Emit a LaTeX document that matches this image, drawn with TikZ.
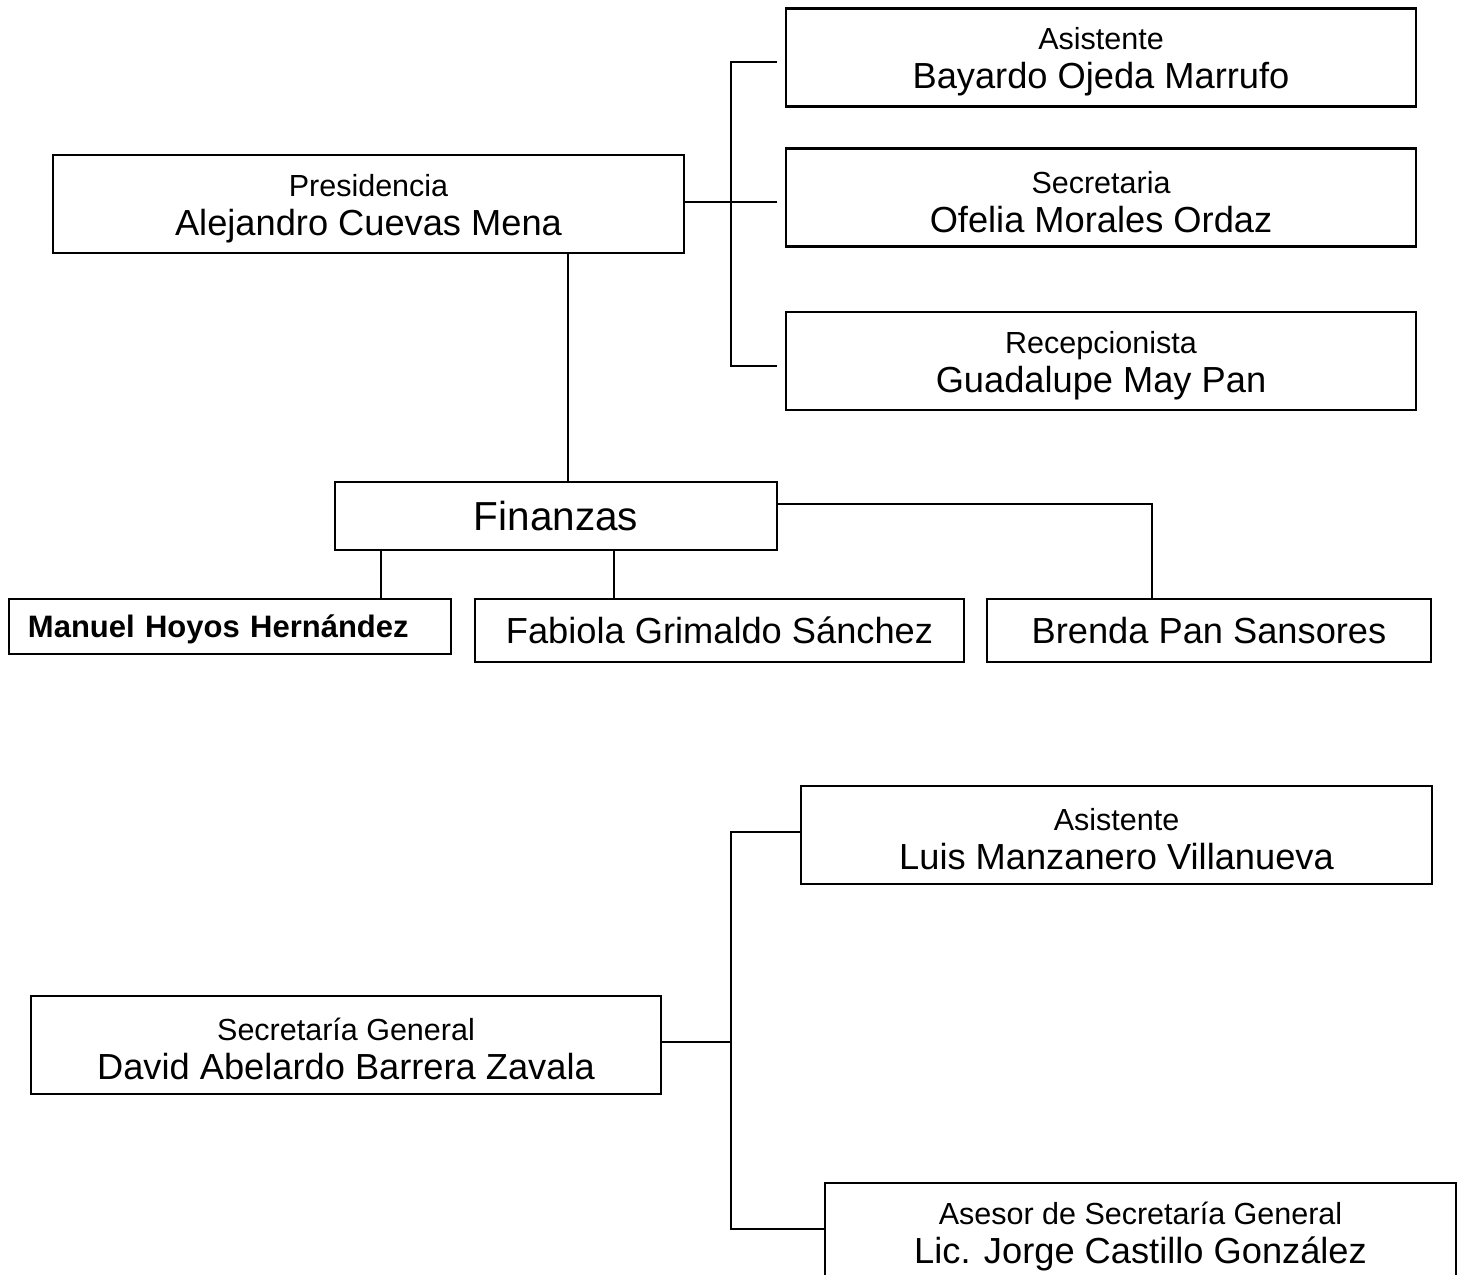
\documentclass[tikz,border=0pt]{standalone}
\usepackage{fontspec}
\setmainfont{Liberation Sans}
\usetikzlibrary{positioning}

\newcommand\cargo[1]{{\fontsize{12.2}{15}\selectfont\rule{0pt}{12.3pt}#1}}
\newcommand\nombre[1]{{\fontsize{14.5}{15.6}\selectfont #1}}

\begin{document}
\begin{tikzpicture}
	[x=0.4pt, y=-0.4pt, line width=0.9pt,
	 bx/.style={draw=black, line width=0.9pt, rectangle, align=center, inner sep=0pt,
	            font=\fontsize{14.5}{15.6}\selectfont},
	 sz/.style 2 args={minimum width=#1*0.4pt, minimum height=#2*0.4pt}]
	\path[fill=white, use as bounding box] (0,0) rectangle (1460,1274);

	% Presidencia
	\node[bx, sz={631}{98}] (pres) at (368.5,204) {\cargo{Presidencia}\\\nombre{Alejandro Cuevas Mena}};
	\node[bx, sz={630}{98}] (asis) at (1101,57.5) {\cargo{Asistente}\\\nombre{Bayardo Ojeda Marrufo}};
	\node[bx, sz={630}{98}] (secr) at (1101,197.5) {\cargo{Secretaria}\\\nombre{Ofelia Morales Ordaz}};
	\node[bx, sz={630}{98}] (recep) at (1101,361) {\cargo{Recepcionista}\\\nombre{Guadalupe May Pan}};

	% Finanzas
	\node[bx, sz={442}{68}, font=\fontsize{16.2}{18}\selectfont] (fin) at (556,516) {Finanzas};
	\node[bx, sz={442}{55}, inner xsep=7.6pt, text width=161.6pt, align=left, text depth=0pt,
	      font=\fontsize{12.4}{14}\selectfont\bfseries] (manuel) at (230,626.5) {Manuel Hoyos Hernández};
	\node[bx, sz={489}{63}] (fabiola) at (719.5,630.5) {\nombre{Fabiola Grimaldo Sánchez}};
	\node[bx, sz={444}{63}] (brenda) at (1209,630.5) {\nombre{Brenda Pan Sansores}};

	% Secretaria General
	\node[bx, sz={630}{98}] (secgen) at (346,1045) {\cargo{Secretaría General}\\\nombre{David Abelardo Barrera Zavala}};
	\node[bx, sz={631}{98}] (asis2) at (1116.5,835) {\cargo{Asistente}\\\nombre{Luis Manzanero Villanueva}};
	\node[bx, sz={631}{98}] (asesor) at (1140.5,1232) {\cargo{Asesor de Secretaría General}\\\nombre{Lic. Jorge Castillo González}};

	\coordinate (ta) at (731,62);
	\coordinate (tm) at (731,202);
	\coordinate (tb) at (731,366);
	\coordinate (fv) at (568,0);
	\coordinate (mv) at (381,0);
	\coordinate (fb) at (614,0);
	\coordinate (fr) at (1152,504);
	\coordinate (ba) at (731,832);
	\coordinate (bm) at (731,1042);
	\coordinate (bb) at (731,1229);

	\draw (pres.east |- tm) -- (tm);
	\draw[shorten >=3.2pt] (tm) -- (secr.west |- tm);
	\draw[shorten <=3.2pt, shorten >=3.2pt] (asis.west |- ta) -- (ta) -- (tb) -- (recep.west |- tb);
	\draw (pres.south -| fv) -- (fin.north -| fv);
	\draw (fin.south -| mv) -- (manuel.north -| mv);
	\draw (fin.south -| fb) -- (fabiola.north -| fb);
	\draw (fin.east |- fr) -- (fr) -- (brenda.north -| fr);
	\draw (secgen.east |- bm) -- (bm);
	\draw (asis2.west |- ba) -- (ba) -- (bb) -- (asesor.west |- bb);
\end{tikzpicture}
\end{document}
